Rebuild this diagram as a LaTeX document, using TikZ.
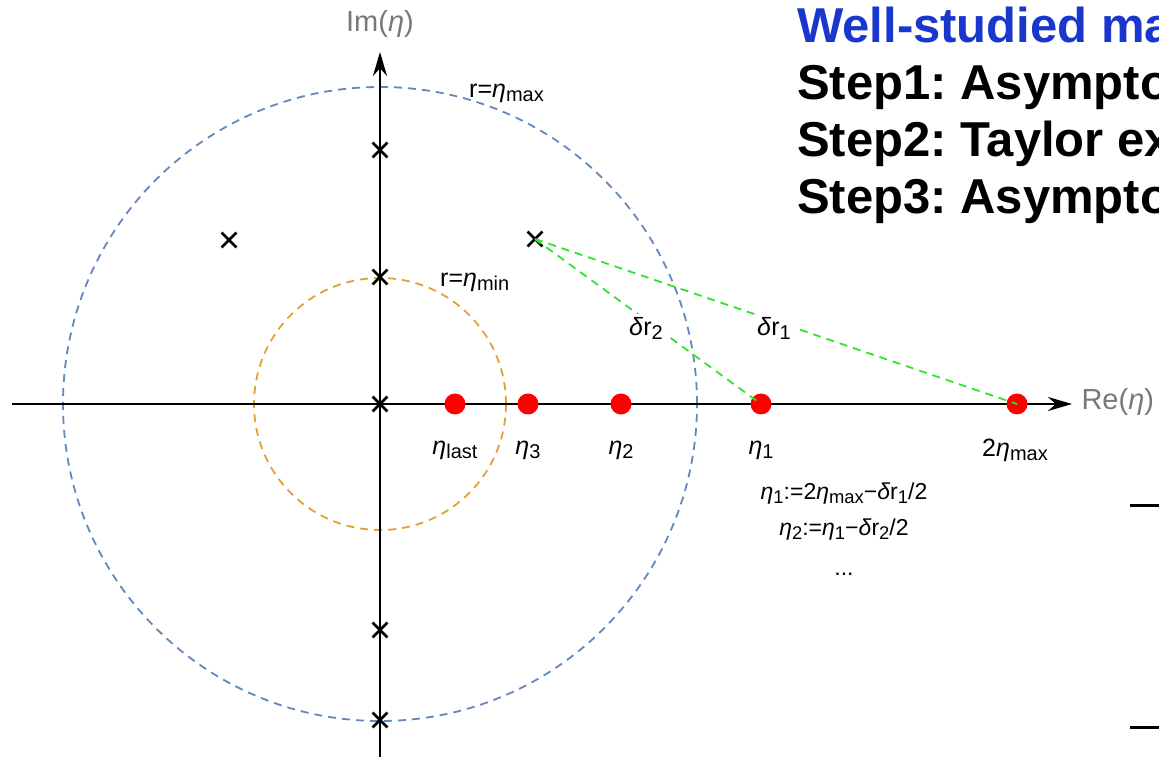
\documentclass[tikz,border=0pt]{standalone}
\usepackage{graphicx}
\usepackage{fontspec}
\setmainfont{Liberation Sans}
\usetikzlibrary{shapes.misc,arrows.meta}

\definecolor{circblue}{RGB}{100,135,190}
\definecolor{circorange}{RGB}{228,160,50}
\definecolor{linegreen}{RGB}{45,230,45}
\definecolor{titleblue}{RGB}{25,55,205}
\definecolor{axisgray}{RGB}{120,120,120}

\newcommand{\teta}{\textit{η}}
\newcommand{\tdelta}{\textit{δ}}
\newcommand{\sub}[1]{\raisebox{-0.3ex}{\scalebox{0.8}{#1}}}

\tikzset{
  pole/.style={cross out, draw, line width=2.8pt, minimum size=12pt, inner sep=0pt},
  zero/.style={circle, fill=red, minimum size=21pt, inner sep=0pt},
  lbl/.style={font=\fontsize{25}{30}\selectfont, inner sep=0pt},
  formula/.style={font=\fontsize{23}{27}\selectfont, inner sep=0pt},
  steptxt/.style={font=\fontsize{49}{58}\selectfont\bfseries\frenchspacing, anchor=base west, inner sep=0pt}
}

\begin{document}
\begin{tikzpicture}[x=1pt, y=1pt]
  \useasboundingbox (-380,-353) rectangle (779,404);
  \clip (-380,-353) rectangle (779,404);
  \coordinate (O) at (0,0);
  % circles
  \draw[circblue, line width=1.8pt, dash pattern=on 8pt off 6pt] (O) circle (317);
  \draw[circorange, line width=1.8pt, dash pattern=on 8pt off 6pt] (O) circle (126);
  % axes
  \coordinate (xl) at (-368,0);
  \coordinate (xr) at (692,0);
  \coordinate (yb) at (0,-353);
  \coordinate (yt) at (0,352);
  \draw[line width=2.8pt, -{Stealth[length=24pt, width=14pt]}] (xl) -- (xr);
  \draw[line width=2.8pt, -{Stealth[length=24pt, width=14pt]}] (yb) -- (yt);
  \node[text=axisgray, font=\fontsize{29}{34}\selectfont, anchor=west] (re) at (698,2) {Re(\teta)};
  \node[text=axisgray, font=\fontsize{29}{34}\selectfont] (im) at (0,380) {Im(\teta)};
  % poles
  \node[pole] (q1) at (0,254) {};
  \node[pole] (q2) at (0,127) {};
  \node[pole] (q0) at (0,0) {};
  \node[pole] (q3) at (0,-226) {};
  \node[pole] (q4) at (0,-316) {};
  \node[pole] (q5) at (-151,164) {};
  \node[pole] (p1) at (155,165) {};
  % zeros on the real axis
  \node[zero] (elast) at (75,0) {};
  \node[zero] (e3) at (148,0) {};
  \node[zero] (e2) at (241,0) {};
  \node[zero] (e1) at (381,0) {};
  \node[zero] (emax) at (637,0) {};
  % distances
  \draw[linegreen, line width=1.8pt, dash pattern=on 8pt off 6pt] (p1.center) -- (e1.center);
  \draw[linegreen, line width=1.8pt, dash pattern=on 8pt off 6pt] (p1.center) -- (emax.center);
  \node[lbl, fill=white, inner sep=3pt] (dr2) at (266,76) {\tdelta r\sub{2}};
  \node[lbl, fill=white, inner sep=3pt] (dr1) at (394,76) {\tdelta r\sub{1}};
  % radii
  \node[lbl, anchor=west] (rmax) at (89,311) {r=\teta\sub{max}};
  \node[lbl, anchor=west] (rmin) at (60,122) {r=\teta\sub{min}};
  % labels under the zeros
  \node[lbl] at (75,-46) {\teta\sub{last}};
  \node[lbl] at (148,-46) {\teta\sub{3}};
  \node[lbl] at (241,-46) {\teta\sub{2}};
  \node[lbl] at (381,-46) {\teta\sub{1}};
  \node[lbl] at (635,-46) {2\teta\sub{max}};
  % recursion
  \node[formula] (f1) at (464,-90) {\teta\sub{1}:=2\teta\sub{max}−\tdelta r\sub{1}/2};
  \node[formula] (f2) at (464,-126) {\teta\sub{2}:=\teta\sub{1}−\tdelta r\sub{2}/2};
  \node[formula] (f3) at (464,-170) {...};
  % text on the right
  \node[steptxt, text=titleblue] (title) at (417,361) {Well-studied ma};
  \node[steptxt] (s1) at (417,304) {Step1: Asympto};
  \node[steptxt] (s2) at (417,247) {Step2: Taylor ex};
  \node[steptxt] (s3) at (417,190) {Step3: Asympto};
  \draw[line width=3pt] (750,-102) -- (779,-102);
  \draw[line width=3pt] (750,-323) -- (779,-323);
\end{tikzpicture}
\end{document}
